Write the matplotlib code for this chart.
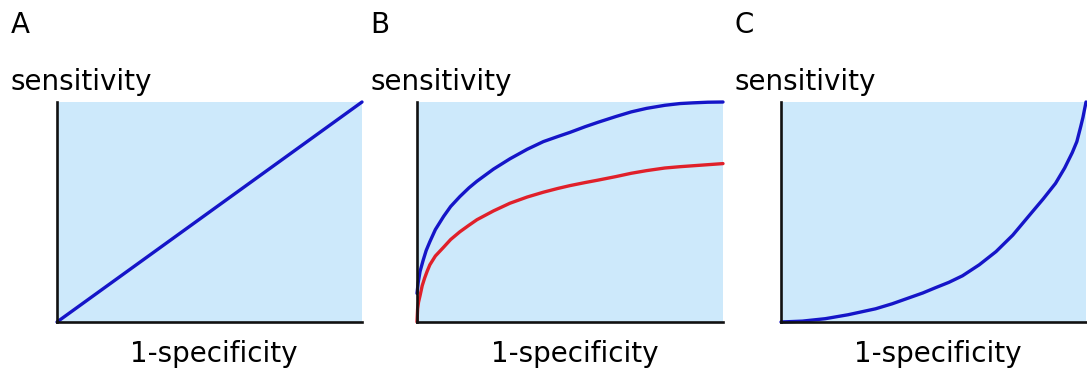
import numpy as np
import matplotlib.pyplot as plt

# panel A: chance line
a_fpr = [0.0, 1.0]
a_tpr = [0.0, 1.0]

# panel B: good test (blue) vs weaker test (red)
b_blue_fpr = [0.0, 0.004, 0.01, 0.02, 0.03, 0.042, 0.06, 0.087, 0.11, 0.14, 0.17, 0.196, 0.25, 0.304,
              0.36, 0.413, 0.46, 0.5, 0.55, 0.592, 0.65, 0.70, 0.75, 0.81, 0.86, 0.90, 0.95, 1.0]
b_blue_tpr = [0.13, 0.18, 0.23, 0.28, 0.325, 0.365, 0.42, 0.48, 0.525, 0.57, 0.61, 0.64, 0.695, 0.742,
              0.785, 0.82, 0.843, 0.862, 0.888, 0.908, 0.934, 0.955, 0.971, 0.985, 0.993, 0.996, 0.999, 1.0]
b_red_fpr = [0.0, 0.002, 0.005, 0.01, 0.017, 0.025, 0.033, 0.042, 0.06, 0.087, 0.11, 0.14, 0.17, 0.196, 0.25,
             0.304, 0.36, 0.413, 0.46, 0.5, 0.55, 0.592, 0.65, 0.70, 0.75, 0.81, 0.86, 0.90, 0.95, 1.0]
b_red_tpr = [0.0, 0.06, 0.09, 0.12, 0.165, 0.20, 0.23, 0.26, 0.30, 0.34, 0.375, 0.41, 0.44, 0.465, 0.505,
             0.54, 0.568, 0.59, 0.607, 0.62, 0.634, 0.645, 0.661, 0.676, 0.688, 0.70, 0.706, 0.71, 0.715, 0.72]

# panel C: worse than chance
c_fpr = [0.0, 0.07, 0.145, 0.22, 0.31, 0.365, 0.42, 0.465, 0.505, 0.55, 0.595, 0.65, 0.705, 0.76,
         0.815, 0.86, 0.90, 0.93, 0.955, 0.97, 0.983, 0.99, 0.995, 0.998, 1.0]
c_tpr = [0.0, 0.004, 0.015, 0.033, 0.06, 0.083, 0.11, 0.132, 0.155, 0.18, 0.21, 0.26, 0.32, 0.395,
         0.486, 0.56, 0.63, 0.70, 0.77, 0.82, 0.89, 0.93, 0.965, 0.985, 1.0]

panel_letters = ['A', 'B', 'C']
xlabel = '1-specificity'
ylabel = 'sensitivity'

bg = '#cde9fb'
blue = '#1515c8'
red = '#e0202a'

plt.rcParams['font.family'] = ['DejaVu Sans']

fig = plt.figure(figsize=(10.87, 3.74), dpi=100)
W, H = 1087, 374
boxes = [(57, 305), (417, 306), (781, 305)]
top, bottom = 102, 322

axes = []
for left, width in boxes:
    ax = fig.add_axes([left / W, (H - bottom) / H, width / W, (bottom - top) / H])
    ax.set_facecolor(bg)
    ax.set_xlim(0, 1)
    ax.set_ylim(0, 1)
    ax.set_xticks([])
    ax.set_yticks([])
    for s in ['top', 'right']:
        ax.spines[s].set_visible(False)
    for s in ['left', 'bottom']:
        ax.spines[s].set_linewidth(1.9)
        ax.spines[s].set_color('#111111')
    axes.append(ax)

style = dict(lw=2.4, clip_on=False, solid_capstyle='round', solid_joinstyle='round')
axes[0].plot(a_fpr, a_tpr, color=blue, **style)
axes[1].plot(b_blue_fpr, b_blue_tpr, color=blue, **style)
axes[1].plot(b_red_fpr, b_red_tpr, color=red, **style)
axes[2].plot(c_fpr, c_tpr, color=blue, **style)

for ax, letter in zip(axes, panel_letters):
    ax.text(-0.152, 1.314, letter, transform=ax.transAxes, fontsize=20, ha='left', va='baseline')
    ax.text(-0.152, 1.055, ylabel, transform=ax.transAxes, fontsize=20, ha='left', va='baseline')
    ax.text(0.515, -0.18, xlabel, transform=ax.transAxes, fontsize=20, ha='center', va='baseline')

fig.savefig('out.png', dpi=100)
